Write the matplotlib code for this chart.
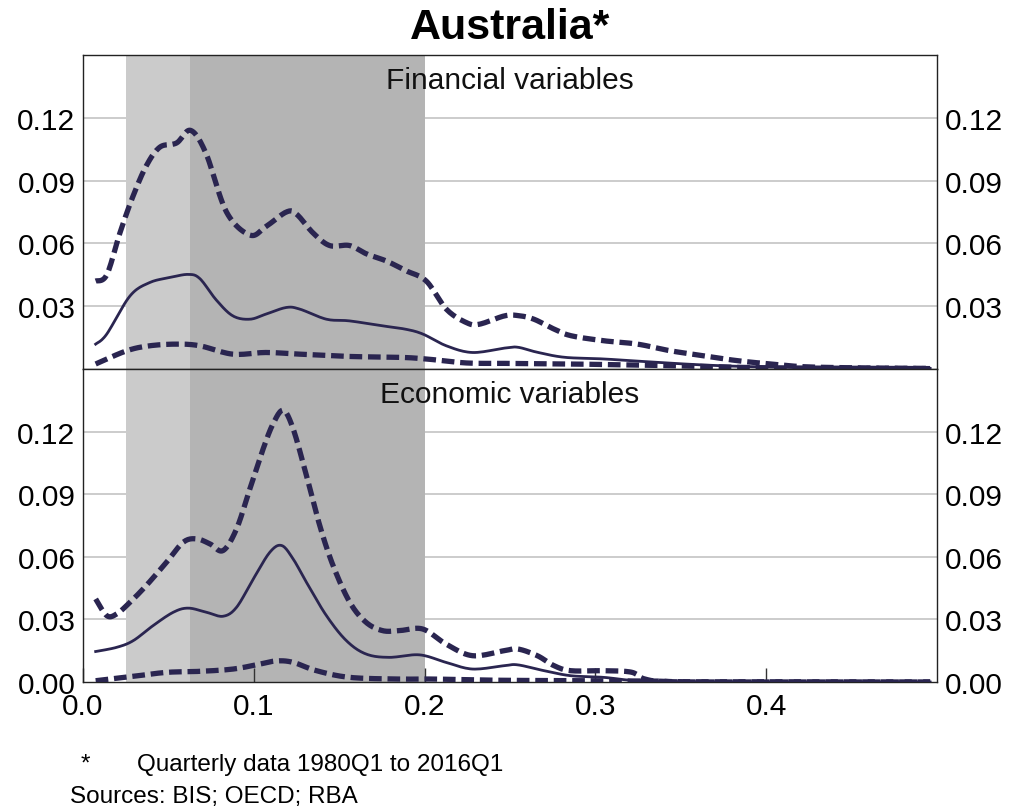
import matplotlib.pyplot as plt
import numpy as np

plt.rcParams['font.family'] = ['Liberation Sans', 'DejaVu Sans']

# Financial variables (top panel)
fin_x_up = [0.0074, 0.0139, 0.0216, 0.029, 0.037, 0.045, 0.0548, 0.063, 0.072, 0.084, 0.0977, 0.107, 0.119,
            0.125, 0.1347, 0.1444, 0.156, 0.166, 0.1776, 0.189, 0.201, 0.2127, 0.2244, 0.232, 0.2468, 0.255,
            0.264, 0.276, 0.2858, 0.305, 0.3246, 0.344, 0.3637, 0.383, 0.4027, 0.422, 0.45, 0.496]
fin_up = [0.042, 0.045, 0.065, 0.082, 0.097, 0.106, 0.108, 0.114, 0.103, 0.075, 0.064, 0.068, 0.075,
          0.074, 0.065, 0.059, 0.059, 0.055, 0.0516, 0.047, 0.042, 0.0286, 0.0222, 0.0214, 0.0254, 0.0255,
          0.0238, 0.019, 0.0159, 0.0135, 0.0119, 0.0087, 0.0063, 0.004, 0.0024, 0.0011, 0.0006, 0.0003]

fin_x_mid = [0.0074, 0.0139, 0.0275, 0.039, 0.0509, 0.0616, 0.0684, 0.078, 0.0877, 0.0977, 0.107, 0.119,
             0.127, 0.1425, 0.156, 0.1756, 0.189, 0.199, 0.2127, 0.228, 0.2468, 0.2546, 0.266, 0.282,
             0.305, 0.334, 0.364, 0.393, 0.44, 0.496]
fin_mid = [0.0119, 0.0167, 0.0349, 0.0413, 0.0437, 0.0452, 0.0432, 0.0330, 0.0254, 0.0238, 0.0262, 0.0294,
           0.0286, 0.0238, 0.023, 0.0206, 0.019, 0.0167, 0.0111, 0.0079, 0.010, 0.0104, 0.008, 0.0056,
           0.0048, 0.0033, 0.0019, 0.0011, 0.0005, 0.0003]

fin_x_lo = [0.0074, 0.0255, 0.039, 0.0548, 0.0684, 0.0877, 0.107, 0.127, 0.156, 0.185, 0.201, 0.2244,
            0.2468, 0.2858, 0.344, 0.40, 0.496]
fin_lo = [0.0024, 0.0087, 0.0111, 0.0119, 0.0111, 0.0071, 0.0079, 0.0071, 0.006, 0.0056, 0.0048, 0.0029,
          0.0027, 0.0024, 0.0016, 0.0006, 0.0002]

# Economic variables (bottom panel)
eco_x_up = [0.0074, 0.0139, 0.0197, 0.0275, 0.037, 0.0489, 0.0587, 0.0665, 0.0743, 0.082, 0.0899, 0.0977,
            0.1055, 0.1113, 0.1172, 0.123, 0.1308, 0.1386, 0.1464, 0.1562, 0.1657, 0.1754, 0.1852, 0.1988,
            0.2125, 0.228, 0.2466, 0.2546, 0.266, 0.2758, 0.2856, 0.305, 0.321, 0.329, 0.344, 0.40, 0.496]
eco_up = [0.0398, 0.0318, 0.0326, 0.0382, 0.0462, 0.0574, 0.067, 0.0686, 0.0662, 0.063, 0.0734, 0.0926,
          0.1118, 0.1238, 0.1302, 0.1214, 0.099, 0.075, 0.0558, 0.0382, 0.0286, 0.0246, 0.0246, 0.0254,
          0.0182, 0.0126, 0.015, 0.0158, 0.0126, 0.0078, 0.0054, 0.0054, 0.0047, 0.0014, 0.0002, 0.0001, 0.0]

eco_x_mid = [0.0074, 0.0197, 0.0294, 0.041, 0.0528, 0.0616, 0.0723, 0.082, 0.0899, 0.0997, 0.1094, 0.1163,
             0.123, 0.1308, 0.1425, 0.1542, 0.1657, 0.1793, 0.197, 0.2125, 0.228, 0.2466, 0.2546, 0.27,
             0.2856, 0.305, 0.3246, 0.36, 0.496]
eco_mid = [0.0146, 0.0166, 0.0198, 0.027, 0.0334, 0.0354, 0.0334, 0.0315, 0.0358, 0.0494, 0.0622, 0.0654,
           0.059, 0.0478, 0.0318, 0.0198, 0.0134, 0.0118, 0.013, 0.0094, 0.0062, 0.0078, 0.0082, 0.0054,
           0.003, 0.0022, 0.0006, 0.0001, 0.0]

eco_x_lo = [0.0074, 0.0294, 0.0489, 0.0684, 0.0879, 0.1036, 0.1133, 0.123, 0.1367, 0.1562, 0.1852, 0.2047,
            0.2466, 0.33, 0.36, 0.496]
eco_lo = [0.0006, 0.0027, 0.0046, 0.0051, 0.0062, 0.0086, 0.0101, 0.0094, 0.0054, 0.0022, 0.0014, 0.0014,
          0.0008, 0.0005, 0.0, 0.0]

yticks = [0.03, 0.06, 0.09, 0.12]
xticks = [0.0, 0.1, 0.2, 0.3, 0.4]
band_light = (0.025, 0.0625)
band_dark = (0.0625, 0.2)

line_col = '#2a2550'
grid_col = '#c4c4c4'


def smooth(xs, ys):
    # Catmull-Rom curve through the read-off points
    P = np.column_stack([xs, ys])
    P = np.vstack([P[0], P, P[-1]])
    pts = []
    for i in range(1, len(P) - 2):
        p0, p1, p2, p3 = P[i - 1], P[i], P[i + 1], P[i + 2]
        for t in np.linspace(0, 1, 12, endpoint=False):
            t2, t3 = t * t, t * t * t
            pt = 0.5 * ((2 * p1) + (-p0 + p2) * t + (2 * p0 - 5 * p1 + 4 * p2 - p3) * t2
                        + (-p0 + 3 * p1 - 3 * p2 + p3) * t3)
            pts.append(pt)
    pts.append(P[-2])
    pts = np.array(pts)
    return pts[:, 0], np.clip(pts[:, 1], 0, None)


fig = plt.figure(figsize=(10.1, 8.12), dpi=100)
ax1 = fig.add_axes([0.0822, 0.5443, 0.8455, 0.3867])
ax2 = fig.add_axes([0.0822, 0.1589, 0.8455, 0.3854])

panels = [
    (ax1, 'Financial variables', (fin_x_up, fin_up), (fin_x_mid, fin_mid), (fin_x_lo, fin_lo)),
    (ax2, 'Economic variables', (eco_x_up, eco_up), (eco_x_mid, eco_mid), (eco_x_lo, eco_lo)),
]

for ax, name, up, mid, lo in panels:
    ax.set_xlim(0, 0.5)
    ax.set_ylim(0, 0.15)
    for y in yticks:
        ax.axhline(y, color=grid_col, lw=1.2, zorder=0)
    ax.axvspan(*band_light, color='#cbcbcb', lw=0, zorder=1)
    ax.axvspan(*band_dark, color='#b4b4b4', lw=0, zorder=1)

    x, y = smooth(*up)
    ax.plot(x, y, color=line_col, lw=3.8, ls=(0, (2.4, 1.1)), zorder=3)
    x, y = smooth(*mid)
    ax.plot(x, y, color=line_col, lw=2.0, zorder=3)
    x, y = smooth(*lo)
    ax.plot(x, y, color=line_col, lw=3.8, ls=(0, (2.4, 1.1)), zorder=3)

    ax.text(0.5, 0.965, name, transform=ax.transAxes, ha='center', va='top', fontsize=21.5, color='#111111')

    ax.tick_params(axis='y', which='both', left=False, right=False, labelleft=True, labelright=True,
                   labelsize=21.5, pad=2)
    for s in ax.spines.values():
        s.set_color('#222222')
        s.set_linewidth(1.0)

ax1.set_yticks(yticks)
ax1.set_yticklabels([f'{v:.2f}' for v in yticks])
ax1.set_xticks([])

ax2.set_yticks([0.0] + yticks)
ax2.set_yticklabels([f'{v:.2f}' for v in [0.0] + yticks])
ax2.set_xticks(xticks)
ax2.set_xticklabels([f'{v:.1f}' for v in xticks])
ax2.tick_params(axis='x', direction='in', length=10, width=1, color='#333333', labelsize=21.5, pad=7)

fig.text(0.505, 0.9655, 'Australia*', ha='center', va='center', fontsize=31, fontweight='bold')
fig.text(0.080, 0.058, '*', ha='left', va='center', fontsize=17.5)
fig.text(0.1356, 0.058, 'Quarterly data 1980Q1 to 2016Q1', ha='left', va='center', fontsize=17.5)
fig.text(0.069, 0.0185, 'Sources: BIS; OECD; RBA', ha='left', va='center', fontsize=17.5)

fig.savefig('out.png', dpi=100)
